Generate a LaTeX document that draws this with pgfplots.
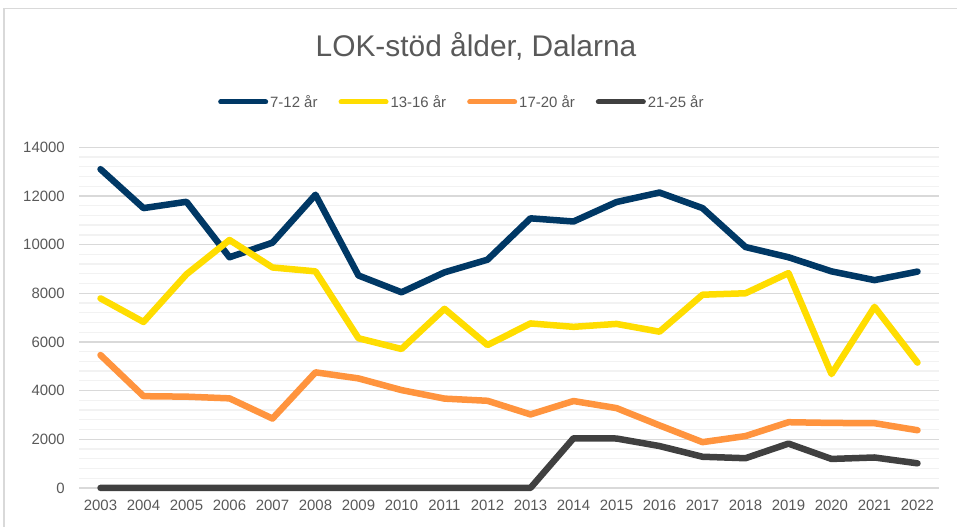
\documentclass[border=0pt]{standalone}
\usepackage{fontspec}
\setmainfont{Liberation Sans}
\usepackage{pgfplots}
\pgfplotsset{compat=1.18}

\definecolor{lokBlue}{RGB}{0,56,101}
\definecolor{lokYellow}{RGB}{255,221,0}
\definecolor{lokOrange}{RGB}{255,148,62}
\definecolor{lokGray}{RGB}{64,64,64}
\definecolor{labelGray}{RGB}{89,89,89}
\definecolor{gridMajor}{RGB}{217,217,217}
\definecolor{gridMinor}{RGB}{242,242,242}

\begin{document}
\begin{tikzpicture}[x=1bp,y=1bp]
\path[use as bounding box] (0,0) rectangle (957,527);
% chart frame (only top and left edges are visible)
\draw[gridMajor, line width=1.5bp] (4,0) -- (4,518.5) -- (957,518.5);
\node[anchor=base, inner sep=0pt, text=labelGray, font=\fontsize{30}{36}\selectfont]
  at (476,470) {LOK-stöd ålder, Dalarna};

\begin{axis}[
  at={(79bp,39.1bp)}, anchor=south west,
  scale only axis, width=860bp, height=340.6bp,
  xmin=2002.5, xmax=2022.5, ymin=0, ymax=14000,
  xtick={2003,2004,...,2022},
  ytick={0,2000,...,14000},
  scaled ticks=false,
  minor y tick num=4,
  ymajorgrids, yminorgrids,
  major grid style={draw=gridMajor, line width=1.3bp},
  minor grid style={draw=gridMinor, line width=1.3bp},
  axis line style={draw=none},
  major tick length=0pt, minor tick length=0pt,
  tick style={draw=none},
  ticklabel style={font=\fontsize{15}{18}\selectfont, text=labelGray, inner sep=0pt},
  xticklabel style={yshift=-11.5bp},
  yticklabel style={xshift=-14bp},
  /pgf/number format/1000 sep={},
  /pgf/number format/assume math mode=true,
  clip=false,
  legend columns=4,
  legend style={draw=none, fill=none, at={(0.1616,1.133)}, anchor=west,
    inner sep=0pt, font=\fontsize{15}{18}\selectfont, text=labelGray,
    nodes={inner sep=0pt},
    /tikz/every odd column/.append style={column sep=2bp},
    /tikz/every even column/.append style={column sep=21bp}},
  legend image code/.code={\draw[#1, line width=5bp, line cap=round] (2.5bp,0bp) -- (47.5bp,0bp);},
  every axis plot/.append style={line width=6.5bp, line join=round, line cap=round},
]
\addplot[lokBlue, no markers] coordinates {
  (2003,13100) (2004,11500) (2005,11760) (2006,9480) (2007,10080)
  (2008,12050) (2009,8730) (2010,8040) (2011,8860) (2012,9380)
  (2013,11080) (2014,10950) (2015,11750) (2016,12140) (2017,11500)
  (2018,9900) (2019,9480) (2020,8900) (2021,8540) (2022,8890)
};
\addlegendentry{7-12 år}
\addplot[lokYellow, no markers] coordinates {
  (2003,7790) (2004,6820) (2005,8780) (2006,10190) (2007,9060)
  (2008,8900) (2009,6150) (2010,5710) (2011,7360) (2012,5870)
  (2013,6760) (2014,6620) (2015,6740) (2016,6420) (2017,7940)
  (2018,8000) (2019,8830) (2020,4680) (2021,7440) (2022,5150)
};
\addlegendentry{13-16 år}
\addplot[lokOrange, no markers] coordinates {
  (2003,5460) (2004,3770) (2005,3750) (2006,3680) (2007,2850)
  (2008,4750) (2009,4500) (2010,4020) (2011,3670) (2012,3580)
  (2013,3020) (2014,3570) (2015,3280) (2016,2570) (2017,1880)
  (2018,2130) (2019,2700) (2020,2670) (2021,2660) (2022,2370)
};
\addlegendentry{17-20 år}
\addplot[lokGray, no markers] coordinates {
  (2003,0) (2004,0) (2005,0) (2006,0) (2007,0)
  (2008,0) (2009,0) (2010,0) (2011,0) (2012,0)
  (2013,0) (2014,2040) (2015,2030) (2016,1720) (2017,1280)
  (2018,1220) (2019,1820) (2020,1190) (2021,1250) (2022,1010)
};
\addlegendentry{21-25 år}
\end{axis}
\end{tikzpicture}
\end{document}
